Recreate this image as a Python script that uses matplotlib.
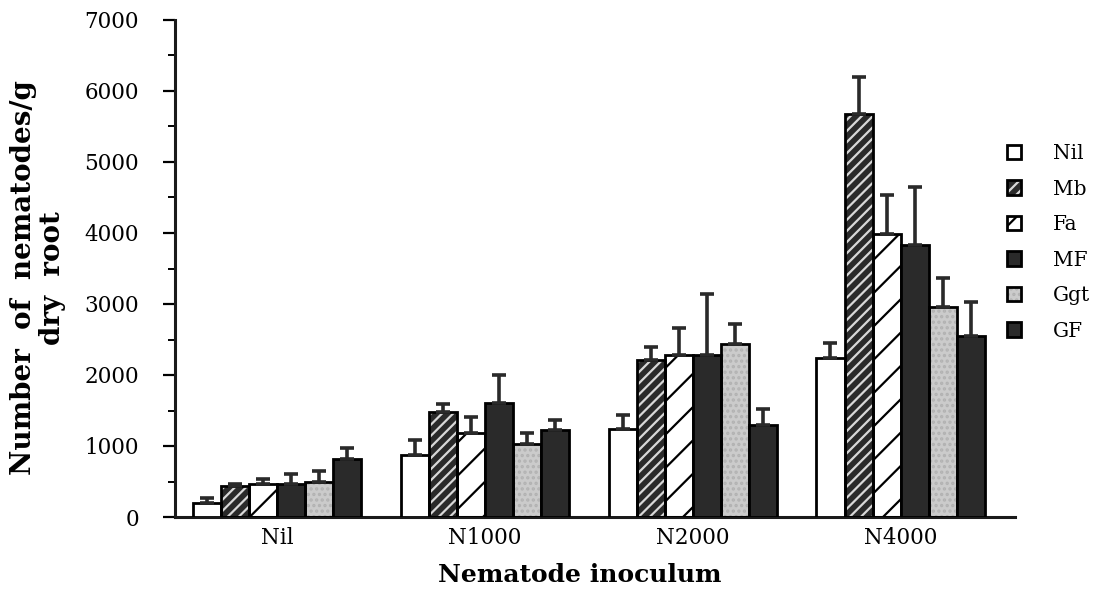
import matplotlib
matplotlib.use("Agg")
import matplotlib.pyplot as plt
import numpy as np
from matplotlib.patches import Patch

# Nematode counts per gram of dry root, by inoculum level and treatment
inoculum = ["Nil", "N1000", "N2000", "N4000"]
treatments = ["Nil", "Mb", "Fa", "MF", "Ggt", "GF"]

nil_mean = [200, 880, 1240, 2240]
mb_mean = [430, 1480, 2210, 5680]
fa_mean = [460, 1180, 2280, 3980]
mf_mean = [460, 1600, 2280, 3830]
ggt_mean = [490, 1030, 2430, 2960]
gf_mean = [810, 1220, 1300, 2550]

nil_se = [70, 210, 195, 215]
mb_se = [30, 105, 185, 520]
fa_se = [75, 230, 380, 560]
mf_se = [145, 395, 855, 820]
ggt_se = [160, 150, 295, 400]
gf_se = [165, 140, 215, 480]

means = [nil_mean, mb_mean, fa_mean, mf_mean, ggt_mean, gf_mean]
errors = [nil_se, mb_se, fa_se, mf_se, ggt_se, gf_se]

plt.rcParams["font.family"] = ["DejaVu Serif"]
plt.rcParams["hatch.linewidth"] = 1.6

DARK = "#2a2a2a"
# (face, hatch, hatch colour) for each treatment
styles = [
    ("white", None, None),
    (DARK, "///", "#d8d8d8"),
    ("white", "/", "black"),
    (DARK, None, None),
    ("#cbcbcb", "...", "#b2b2b2"),
    (DARK, None, None),
]

fig = plt.figure(figsize=(11.02, 5.89), dpi=100)
ax = fig.add_axes([175 / 1102, 1 - 517 / 589, (1015 - 175) / 1102, (517 - 20) / 589])

x = np.arange(len(inoculum))
width = 0.135
offsets = (np.arange(len(treatments)) - 2.5) * width

for k, (m, e) in enumerate(zip(means, errors)):
    face, hatch, hcol = styles[k]
    pos = x + offsets[k]
    if hatch:
        ax.bar(pos, m, width, color=face, edgecolor=hcol, hatch=hatch,
               linewidth=0, zorder=2)
        ax.bar(pos, m, width, fill=False, edgecolor="black", linewidth=2, zorder=3)
    else:
        ax.bar(pos, m, width, color=face, edgecolor="black", linewidth=2, zorder=3)
    ax.errorbar(pos, m, yerr=[np.zeros(len(m)), e], fmt="none", ecolor=DARK,
                elinewidth=2.6, capsize=5, capthick=2.6, zorder=4)

ax.set_xlim(-0.49, 3.55)
ax.set_ylim(0, 7000)
ax.set_yticks(np.arange(0, 7001, 1000))
ax.set_yticks(np.arange(500, 7000, 1000), minor=True)
ax.set_xticks(x)
ax.set_xticklabels(inoculum)

for s in ("top", "right"):
    ax.spines[s].set_visible(False)
for s in ("left", "bottom"):
    ax.spines[s].set_linewidth(2.2)
    ax.spines[s].set_color("#1a1a1a")

ax.tick_params(axis="y", which="major", length=9, width=1.6, pad=17,
               labelsize=15.5, direction="out")
ax.tick_params(axis="y", which="minor", length=5, width=1.4, direction="out")
ax.tick_params(axis="x", length=0, pad=7, labelsize=15.5)

fig.text(580 / 1102, 1 - 575 / 589, "Nematode inoculum", ha="center", va="center",
         fontsize=18, fontweight="bold")
fig.text(38 / 1102, 1 - 278 / 589, "Number  of  nematodes/g\ndry  root", ha="center",
         va="center", rotation=90, fontsize=20, fontweight="bold", linespacing=1.08)

# Legend swatches
handles = []
for face, hatch, hcol in styles:
    if hatch:
        handles.append((Patch(facecolor=face, edgecolor=hcol, hatch=hatch, linewidth=0),
                        Patch(fill=False, edgecolor="black", linewidth=2)))
    else:
        handles.append(Patch(facecolor=face, edgecolor="black", linewidth=2))
fig.legend(handles, treatments, loc="upper left",
           bbox_to_anchor=(1007 / 1102, 1 - 144 / 589), frameon=False,
           fontsize=14.5, handlelength=0.7, handleheight=0.7, handletextpad=1.6,
           labelspacing=0.82, borderpad=0, borderaxespad=0)

fig.savefig("out.png", dpi=100)
